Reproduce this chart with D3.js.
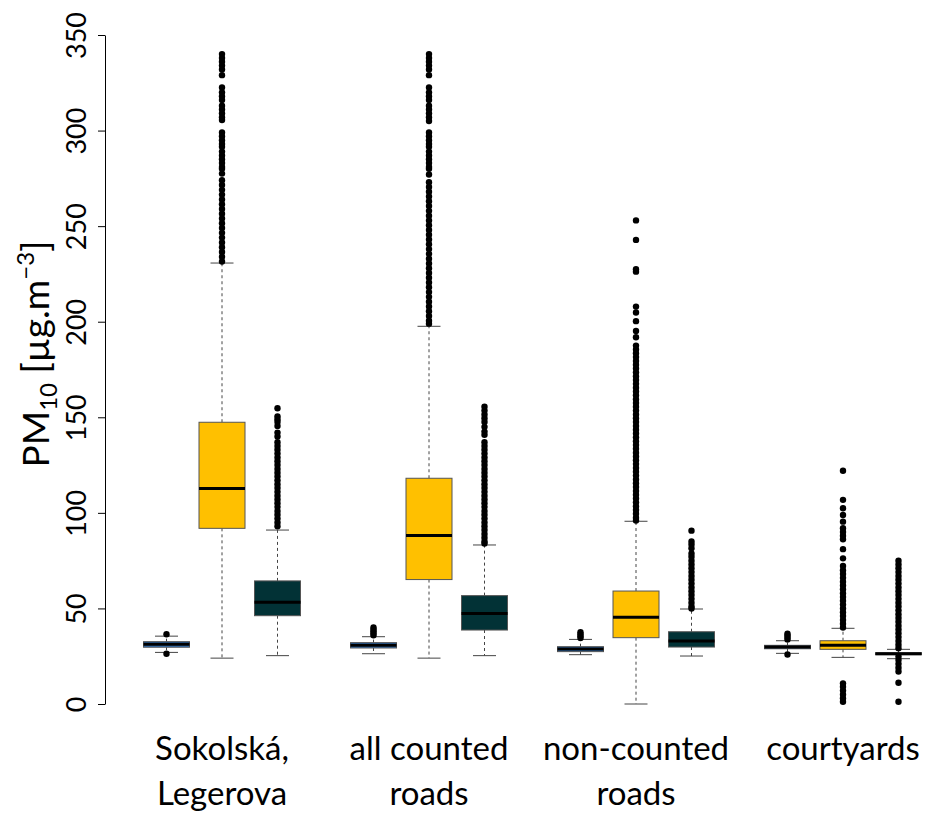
<!DOCTYPE html>
<html lang="en">
<head>
    <meta charset="utf-8" />
    <script src="https://d3js.org/d3.v7.min.js"></script>
</head>
  <body>
      <svg id=canvas width=928 height=814></svg>
  </body>

  <style>
    html, body { margin: 0; padding: 0; background: #fff; }
    text { font-family: Lato, "Open Sans", sans-serif; fill: #000; }
  </style>

	<script>

  // groups and series
  var groups = ["Sokolská,|Legerova", "all counted|roads", "non-counted|roads", "courtyards"]
  var series = ["blue", "yellow", "teal"]
  var fills = {blue: "#2F70B8", yellow: "#FFC000", teal: "#023236"}
  var yTicks = [0, 50, 100, 150, 200, 250, 300, 350]

  // box stats per group: [lowWhisker, q1, median, q3, highWhisker]
  var blueStats   = [[27, 29.7, 31.2, 32.6, 35.5], [26.3, 29.3, 30.7, 32.1, 35.2], [25.8, 27.4, 28.8, 30.0, 33.8], [26.5, 28.9, 29.8, 30.7, 33.1]]
  var yellowStats = [[24, 91.9, 112.8, 147.4, 230.7], [24, 65.1, 88.1, 118.1, 197.6], [0, 34.7, 45.4, 59.1, 95.6], [24.4, 28.6, 30.7, 33.1, 39.6]]
  var tealStats   = [[25.3, 46.2, 53.2, 64.4, 91], [25.3, 38.7, 47.3, 56.7, 83.2], [25.1, 29.8, 33, 37.8, 49.7], [23.7, 25.8, 26.3, 26.8, 28.6]]

  // outliers
  var blueOut = [
    [36.5, 26.3],
    [40, 39, 38, 37, 36],
    [37.5, 36.5, 35.5, 34.5],
    [36.8, 35.8, 34.8, 33.8, 25.9]
  ]
  var yellowOut = [
    [340, 338, 336, 334, 332, 329, 322.5, 320, 318, 316, 313, 311, 309, 307, 305.5, 299, 297, 295, 293, 291.5,
     289, 287, 285, 283, 281, 280, 277.5, 274, 271.5, 269, 266.5, 264, 261.5, 259, 256.5, 254, 251.5, 249,
     246.5, 244, 241.5, 239, 236.5, 234, 231.5],
    [340, 338, 336, 334, 332, 329, 322.5, 320, 318, 316, 313, 311, 309, 307, 305, 299, 297, 295, 293, 291.5,
     289, 287, 285, 283, 281, 280, 277, 273, 270.5, 268, 265.5, 263, 260.5, 258, 255.5, 253, 250.5, 248, 245.5,
     243, 240.5, 238, 235.5, 233, 230.5, 228, 225.5, 223, 220.5, 218, 215.5, 213, 210.5, 208, 205.5, 203, 200.5, 199],
    [253, 242.8, 227.5, 226.2, 207.9, 204.8, 200.3, 195.2, 191.9, 187.5, 185.5, 183.5, 181.5, 179.5, 177.5, 175.5,
     173.5, 171.5, 169.5, 167.5, 165.5, 163.5, 161.5, 159.5, 157.5, 155.5, 153.5, 151.5, 149.5, 147.5, 145.5, 143.5,
     141.5, 139.5, 137.5, 135.5, 133.5, 131.5, 129.5, 127.5, 125.5, 123.5, 121.5, 119.5, 117.5, 115.5, 113.5, 111.5,
     109.5, 107.5, 105.5, 103.5, 101.5, 99.5, 97.5, 96],
    [122, 106.8, 102.4, 98.9, 95.4, 92, 90, 88, 86.2, 81, 76.2, 72.2, 70, 68, 66, 64, 62, 60, 58, 56, 54, 52, 50,
     48, 46, 44, 42, 40, 10.8, 9, 7, 5, 3, 1.2]
  ]
  var tealOut = [
    [154.7, 150.5, 149, 147.5, 145.5, 142, 140, 137, 135, 133, 131, 129, 127, 125, 123, 121, 119, 117, 115, 113,
     111, 109, 107, 105, 103, 101, 99, 97, 95, 93],
    [155.5, 153.5, 151.5, 149.5, 147.5, 145, 142.5, 140.8, 137, 135, 133, 131, 129, 127, 125, 123, 121, 119, 117,
     115, 113, 111, 109, 107, 105, 103, 101, 99, 97, 95, 93, 91, 89, 87, 85, 84],
    [90.7, 85, 83.5, 81.5, 78.8, 77, 75, 73, 71, 69, 67, 65, 63, 61, 59, 57, 55, 53, 51, 50],
    [75, 73, 71, 69, 67, 65, 63, 61, 59, 57, 55, 53, 51, 49, 47, 45, 43, 41, 39, 37, 35, 33, 31, 29.2,
     24.8, 23, 21, 19, 17, 11.1, 1.2]
  ]

  var stats = {blue: blueStats, yellow: yellowStats, teal: tealStats}
  var outs = {blue: blueOut, yellow: yellowOut, teal: tealOut}

  var svg = d3.select("#canvas")

  var y = d3.scaleLinear().domain([0, 350]).range([704, 35])
  var x = d3.scalePoint().domain(groups).range([222, 843])
  var xs = d3.scalePoint().domain(series).range([-55.5, 55.5])
  var boxW = 46

  // y axis
  var yAxis = svg.append("g")
    .attr("transform", "translate(105,0)")
    .call(d3.axisLeft(y).tickValues(yTicks).tickSize(7).tickSizeOuter(0).tickFormat(d3.format("d")))
  yAxis.select(".domain").attr("stroke", "#000").attr("stroke-width", 1)
  yAxis.selectAll(".tick line").attr("stroke", "#000")
  yAxis.selectAll(".tick text")
    .attr("transform", "rotate(-90)")
    .attr("x", 0).attr("y", -19).attr("dy", 0)
    .attr("text-anchor", "middle")
    .style("font-family", "Lato, sans-serif")
    .style("font-size", "27px")
    .attr("fill", "#000")

  // y title
  var title = svg.append("text")
    .attr("transform", "translate(49,354) rotate(-90)")
    .attr("text-anchor", "middle")
    .style("font-size", "37px")
  title.append("tspan").text("PM")
  title.append("tspan").attr("dy", 8).style("font-size", "24px").text("10")
  title.append("tspan").attr("dy", -8).text(" [µg.m")
  title.append("tspan").attr("dy", -15).style("font-size", "24px").text("−3")
  title.append("tspan").attr("dy", 15).text("]")

  // boxes
  groups.forEach(function(g, gi) {
    series.forEach(function(s) {
      var cx = x(g) + xs(s)
      var st = stats[s][gi]
      var b = svg.append("g")

      // whiskers
      b.append("line").attr("x1", cx).attr("x2", cx).attr("y1", y(st[3])).attr("y2", y(st[4]))
        .attr("stroke", "#444").attr("stroke-dasharray", "3,3")
      b.append("line").attr("x1", cx).attr("x2", cx).attr("y1", y(st[1])).attr("y2", y(st[0]))
        .attr("stroke", "#444").attr("stroke-dasharray", "3,3")
      ;[st[0], st[4]].forEach(function(v) {
        b.append("line").attr("x1", cx - boxW / 4).attr("x2", cx + boxW / 4)
          .attr("y1", y(v)).attr("y2", y(v)).attr("stroke", "#444")
      })

      b.append("rect")
        .attr("x", cx - boxW / 2).attr("width", boxW)
        .attr("y", y(st[3])).attr("height", Math.max(y(st[1]) - y(st[3]), 1))
        .attr("fill", fills[s]).attr("stroke", "#555").attr("stroke-width", 1)

      b.append("line").attr("x1", cx - boxW / 2).attr("x2", cx + boxW / 2)
        .attr("y1", y(st[2])).attr("y2", y(st[2]))
        .attr("stroke", "#000").attr("stroke-width", 3)

      b.selectAll("circle").data(outs[s][gi]).enter().append("circle")
        .attr("cx", cx).attr("cy", function(d){ return y(d) })
        .attr("r", 3.2).attr("fill", "#000")
    })

    // category label
    var lines = g.split("|")
    var t = svg.append("text")
      .attr("text-anchor", "middle")
      .style("font-size", "33px")
    lines.forEach(function(l, li) {
      t.append("tspan").attr("x", x(g)).attr("y", 760 + li * 45).text(l)
    })
  })

	</script>
</html>
